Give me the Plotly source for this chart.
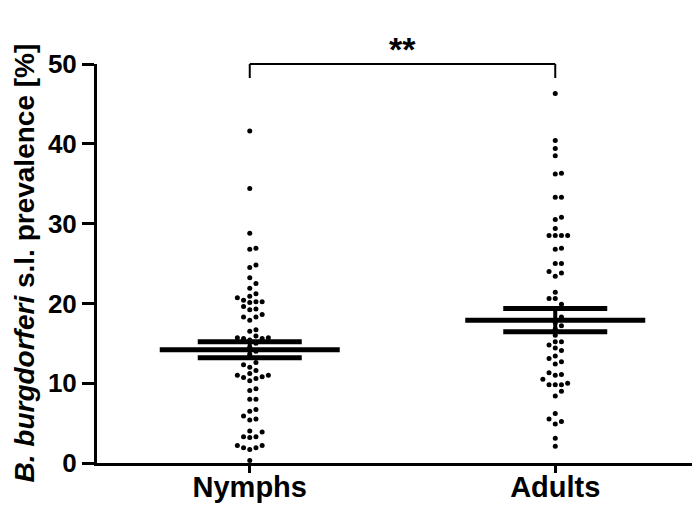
import plotly.graph_objects as go

categories = ["Nymphs", "Adults"]
nymphs = [41.6, 34.4, 28.8, 26.8, 26.9, 24.8, 24.5, 23.2, 22.5, 21.9, 20.9, 21.2, 20.7,
          20.4, 20.2, 20.1, 20.2, 19.6, 19.2, 19.3, 18.6, 18.3, 18.3, 17.9, 16.5, 16.7,
          15.9, 15.7, 15.7, 15.6, 15.6, 15.4, 15.0, 14.5, 14.0, 13.6, 12.3, 12.0, 12.6,
          11.6, 11.2, 11.0, 10.7, 10.6, 10.3, 10.8, 11.0, 9.1, 9.3, 8.0, 8.0, 6.5, 6.7,
          5.4, 5.5, 5.9, 4.0, 3.3, 3.2, 3.3, 3.9, 2.2, 1.9, 1.7, 1.9, 2.2, 0.3]
adults = [46.3, 40.4, 39.4, 38.5, 36.2, 36.3, 33.3, 33.3, 30.5, 30.8, 29.4, 28.5, 28.5,
          28.5, 28.5, 26.9, 26.8, 25.0, 25.0, 23.8, 23.4, 24.0, 21.4, 20.6, 20.6, 19.9,
          19.3, 18.3, 17.6, 17.2, 16.8, 16.0, 15.2, 15.2, 14.8, 14.4, 14.1, 13.1, 13.4,
          12.7, 12.4, 11.3, 11.0, 11.1, 10.5, 9.8, 9.8, 9.8, 10.0, 9.0, 8.4, 6.2, 5.5,
          5.2, 4.9, 3.1, 2.1]
means = [14.2, 17.9]
sems = [1.0, 1.45]
y_ticks = [0, 10, 20, 30, 40, 50]
significance = "**"

W, H = 700, 515
ML, MR, MT, MB = 89, 0, 56, 60
pw, ph = W - ML - MR, H - MT - MB
xr = [-0.5, 1.5]
yr = [0, 50]
px_x = pw / (xr[1] - xr[0])
px_y = ph / (yr[1] - yr[0])


def swarm(vals, center):
    step = 6.2
    placed = []
    out = []
    cands = [0]
    for i in range(1, 20):
        cands += [i, -i]
    for v in sorted(vals):
        vy = v * px_y
        for c in cands:
            ox = c * step
            if all((ox - qx) ** 2 + (vy - qy) ** 2 >= 5.9 ** 2 for qx, qy in placed):
                placed.append((ox, vy))
                out.append((center + ox / px_x, v))
                break
    return out


fig = go.Figure()
for i, vals in enumerate([nymphs, adults]):
    pts = swarm(vals, i)
    fig.add_trace(go.Scatter(x=[p[0] for p in pts], y=[p[1] for p in pts], mode="markers",
                             marker=dict(color="black", size=5), cliponaxis=False,
                             showlegend=False, hoverinfo="skip"))
    m, s = means[i], sems[i]
    hw = 90 / px_x
    cw = 52 / px_x
    fig.add_trace(go.Scatter(x=[i - hw, i + hw], y=[m, m], mode="lines",
                             line=dict(color="black", width=5), showlegend=False))
    for yv in (m - s, m + s):
        fig.add_trace(go.Scatter(x=[i - cw, i + cw], y=[yv, yv], mode="lines",
                                 line=dict(color="black", width=5), showlegend=False))
    fig.add_trace(go.Scatter(x=[i, i], y=[m - s, m + s], mode="lines",
                             line=dict(color="black", width=4), showlegend=False))


def xpaper(i):
    return (i - xr[0]) / (xr[1] - xr[0])


ytop = 1.0
ybot = 1 - 14 / ph
for (xa, ya, xb, yb) in [(xpaper(0), ybot, xpaper(0), ytop),
                         (xpaper(0), ytop, xpaper(1), ytop),
                         (xpaper(1), ytop, xpaper(1), ybot)]:
    fig.add_shape(type="line", xref="paper", yref="paper", x0=xa, y0=ya, x1=xb, y1=yb,
                  line=dict(color="black", width=2))
fig.add_annotation(x=(xpaper(0) + xpaper(1)) / 2, y=ytop, xref="paper", yref="paper",
                   text="<b>" + significance + "</b>", showarrow=False, yanchor="bottom",
                   yshift=-6, font=dict(size=34, color="black", family="Liberation Sans"))

fig.add_annotation(x=-(ML - 16) / pw, y=0.5, xref="paper", yref="paper",
                   text="<b><i>B. burgdorferi</i> s.l. prevalence [%]</b>",
                   textangle=-90, showarrow=False, xanchor="center", yanchor="middle",
                   font=dict(size=28, color="black", family="Liberation Sans"))

fig.update_layout(
    width=W, height=H, margin=dict(l=ML, r=MR, t=MT, b=MB),
    plot_bgcolor="white", paper_bgcolor="white",
    font=dict(family="Liberation Sans", color="black"),
    xaxis=dict(range=xr, tickmode="array", tickvals=[0, 1],
               ticktext=["<b>" + c + "</b>" for c in categories],
               showgrid=False, zeroline=False, showline=True, linecolor="black",
               linewidth=3, ticks="outside", ticklen=7, tickwidth=2.5, tickcolor="black",
               ticklabelstandoff=-11,
               tickfont=dict(size=29, family="Liberation Sans", color="black")),
    yaxis=dict(range=yr, tickvals=y_ticks, ticktext=["<b>%d</b>" % t for t in y_ticks],
               showgrid=False, zeroline=False, showline=True, linecolor="black",
               linewidth=3, ticks="outside", ticklen=12, tickwidth=2.5, tickcolor="black",
               tickfont=dict(size=26, family="Liberation Sans", color="black")),
)
fig.write_html("out.html")
